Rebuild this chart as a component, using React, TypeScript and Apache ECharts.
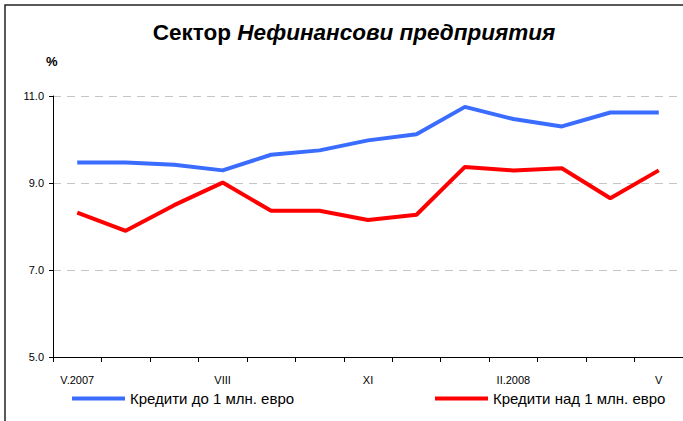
import React, { useEffect, useRef } from "react";
import * as echarts from "echarts";

const categories = ["V.2007", "VI", "VII", "VIII", "IX", "X", "XI", "XII", "I.2008", "II.2008", "III", "IV", "V"];
const shownLabels = ["V.2007", "VIII", "XI", "II.2008", "V"];
const loansUpTo1m = [9.47, 9.47, 9.42, 9.29, 9.65, 9.75, 9.98, 10.12, 10.75, 10.47, 10.3, 10.62, 10.62];
const loansOver1m = [8.32, 7.9, 8.49, 9.01, 8.36, 8.36, 8.15, 8.27, 9.37, 9.29, 9.34, 8.65, 9.29];
const seriesNames = ["Кредити до 1 млн. евро", "Кредити над 1 млн. евро"];
const titleParts = ["Сектор ", "Нефинансови предприятия"];

const FONT = "Liberation Sans, Arial, sans-serif";

export default function App() {
  const ref = useRef<HTMLDivElement>(null);
  useEffect(() => {
    document.body.style.margin = "0";
    const chart = echarts.init(ref.current!, null, { renderer: "svg" });
    chart.setOption({
      animation: false,
      backgroundColor: "#ffffff",
      textStyle: { fontFamily: FONT },
      title: {
        text: `{a|${titleParts[0]}}{b|${titleParts[1]}}`,
        left: 349,
        top: 16,
        textAlign: "center",
        textStyle: {
          rich: {
            a: { fontFamily: FONT, fontSize: 22.5, fontWeight: "bold", color: "#000" },
            b: { fontFamily: FONT, fontSize: 22.5, fontWeight: "bold", fontStyle: "italic", color: "#000" },
          },
        },
      },
      graphic: [
        {
          type: "rect",
          shape: { x: 5, y: 5, width: 700, height: 440 },
          style: { fill: "none", stroke: "#222", lineWidth: 1.5 },
          silent: true,
        },
        {
          type: "text",
          left: 46,
          top: 55,
          style: { text: "%", fontFamily: FONT, fontSize: 13, fontWeight: "bold", fill: "#000" },
        },
      ],
      legend: [
        {
          data: [seriesNames[0]],
          left: 72,
          top: 391,
          padding: 0,
          icon: "rect",
          itemWidth: 53,
          itemHeight: 4,
          textStyle: { fontFamily: FONT, fontSize: 15, color: "#000" },
        },
        {
          data: [seriesNames[1]],
          left: 435,
          top: 391,
          padding: 0,
          icon: "rect",
          itemWidth: 53,
          itemHeight: 4,
          textStyle: { fontFamily: FONT, fontSize: 15, color: "#000" },
        },
      ],
      grid: { left: 53, top: 96, bottom: 64, right: -6, containLabel: false },
      xAxis: {
        type: "category",
        data: categories,
        boundaryGap: true,
        axisLine: { lineStyle: { color: "#000", width: 1 } },
        axisTick: { show: true, interval: 0, length: 5, inside: false, lineStyle: { color: "#000" } },
        axisLabel: {
          interval: (i: number, v: string) => shownLabels.includes(v) && i % 3 === 0,
          margin: 17,
          fontSize: 11,
          color: "#000",
          fontFamily: FONT,
        },
        splitLine: { show: false },
      },
      yAxis: {
        type: "value",
        min: 5,
        max: 11,
        interval: 2,
        axisLine: { show: true, lineStyle: { color: "#000", width: 1 } },
        axisTick: { show: true, length: 4, lineStyle: { color: "#000" } },
        axisLabel: {
          formatter: (v: number) => v.toFixed(1),
          fontSize: 11,
          color: "#000",
          margin: 9,
          fontFamily: FONT,
        },
        splitLine: { show: true, lineStyle: { color: "#c4c4c4", type: [8, 6], width: 1 } },
      },
      series: [
        {
          name: seriesNames[0],
          type: "line",
          data: loansUpTo1m,
          showSymbol: false,
          symbol: "none",
          lineStyle: { color: "#3a6cff", width: 4 },
          itemStyle: { color: "#3a6cff" },
        },
        {
          name: seriesNames[1],
          type: "line",
          data: loansOver1m,
          showSymbol: false,
          symbol: "none",
          lineStyle: { color: "#ff0000", width: 4 },
          itemStyle: { color: "#ff0000" },
        },
      ],
    });
    return () => chart.dispose();
  }, []);
  return <div ref={ref} style={{ width: 683, height: 421 }} />;
}
